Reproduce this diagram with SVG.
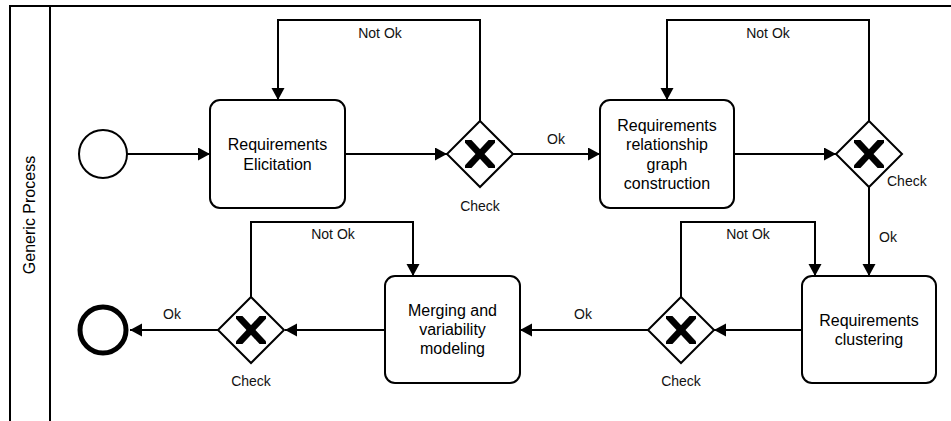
<svg xmlns="http://www.w3.org/2000/svg" width="951" height="421" viewBox="0 0 951 421">
  <style>
    .pool { fill: none; stroke: #000; stroke-width: 2; }
    .task { fill: #fff; stroke: #000; stroke-width: 2; }
    .gw { fill: #fff; stroke: #000; stroke-width: 2; }
    .xmark { stroke: #000; stroke-width: 6.5; stroke-linecap: butt; fill: none; }
    .flow { fill: none; stroke: #000; stroke-width: 2; marker-end: url(#arrow); }
    .tt { font-family: "Liberation Sans", Arial, sans-serif; font-size: 16px; fill: #000; text-anchor: middle; }
    .lbl { font-family: "Liberation Sans", Arial, sans-serif; font-size: 14px; fill: #111; text-anchor: middle; }
  </style>
  <defs>
    <marker id="arrow" markerUnits="userSpaceOnUse" markerWidth="14" markerHeight="14" refX="12" refY="6.5" orient="auto">
      <path d="M0,0 L12,6.5 L0,13 z" fill="#000"/>
    </marker>
    <clipPath id="xclip">
      <rect x="-15" y="-14" width="30" height="28"/>
    </clipPath>
    <!-- exclusive gateway: diamond with an X marker, centred on the origin -->
    <g id="xor">
      <polygon class="gw" points="0,-33 33,0 0,33 -33,0"/>
      <g clip-path="url(#xclip)">
        <line class="xmark" x1="-14.5" y1="-15.6" x2="14.5" y2="15.6"/>
        <line class="xmark" x1="14.5" y1="-15.6" x2="-14.5" y2="15.6"/>
      </g>
    </g>
  </defs>

  <rect width="951" height="421" fill="#fff"/>

  <!-- pool with its lane header -->
  <g id="pool">
    <path class="pool" d="M10,421 V6 H951"/>
    <line class="pool" x1="50" y1="6" x2="50" y2="421"/>
    <text class="tt" transform="translate(35,215) rotate(-90)" x="0" y="0">Generic Process</text>
  </g>

  <!-- sequence flows -->
  <g id="connectors">
    <path class="flow" d="M127,154 H210"/>
    <path class="flow" d="M345,154 H447"/>
    <path class="flow" d="M480,121 V20 H278 V100"/>
    <path class="flow" d="M513,154 H600"/>
    <path class="flow" d="M734,154 H836"/>
    <path class="flow" d="M869,121 V20 H667 V100"/>
    <path class="flow" d="M869,187 V276"/>
    <path class="flow" d="M802,330 H714"/>
    <path class="flow" d="M681,297 V222 H815 V276"/>
    <path class="flow" d="M648,330 H520"/>
    <path class="flow" d="M385,330 H285"/>
    <path class="flow" d="M251,297 V222 H413 V276"/>
    <path class="flow" d="M218,330 H130"/>

    <text class="lbl" x="380" y="38">Not Ok</text>
    <text class="lbl" x="556" y="144">Ok</text>
    <text class="lbl" x="768" y="38">Not Ok</text>
    <text class="lbl" x="888" y="242">Ok</text>
    <text class="lbl" x="748" y="239">Not Ok</text>
    <text class="lbl" x="583" y="319">Ok</text>
    <text class="lbl" x="333" y="239">Not Ok</text>
    <text class="lbl" x="172" y="319">Ok</text>
  </g>

  <g id="start">
    <circle cx="103" cy="154" r="24" fill="#fff" stroke="#000" stroke-width="2"/>
  </g>

  <g id="elicitation">
    <rect class="task" x="210" y="100" width="135" height="108" rx="10"/>
    <text class="tt" x="277.5" y="150">Requirements</text>
    <text class="tt" x="277.5" y="169.5">Elicitation</text>
  </g>

  <g id="check1">
    <use href="#xor" x="480" y="154"/>
    <text class="lbl" x="480" y="211">Check</text>
  </g>

  <g id="graph-construction">
    <rect class="task" x="600" y="100" width="134" height="108" rx="10"/>
    <text class="tt" x="667" y="131">Requirements</text>
    <text class="tt" x="667" y="150">relationship</text>
    <text class="tt" x="667" y="169.5">graph</text>
    <text class="tt" x="667" y="188.5">construction</text>
  </g>

  <g id="check2">
    <use href="#xor" x="869" y="154"/>
    <text class="lbl" x="887" y="186" style="text-anchor:start">Check</text>
  </g>

  <g id="clustering">
    <rect class="task" x="802" y="276" width="134" height="107" rx="10"/>
    <text class="tt" x="869" y="325.5">Requirements</text>
    <text class="tt" x="869" y="345">clustering</text>
  </g>

  <g id="check3">
    <use href="#xor" x="681" y="330"/>
    <text class="lbl" x="681" y="386">Check</text>
  </g>

  <g id="merging">
    <rect class="task" x="385" y="276" width="135" height="107" rx="10"/>
    <text class="tt" x="452.5" y="316">Merging and</text>
    <text class="tt" x="452.5" y="335">variability</text>
    <text class="tt" x="452.5" y="354">modeling</text>
  </g>

  <g id="check4">
    <use href="#xor" x="251" y="330"/>
    <text class="lbl" x="251" y="386">Check</text>
  </g>

  <g id="end">
    <circle cx="103" cy="330" r="23" fill="#fff" stroke="#000" stroke-width="5"/>
  </g>
</svg>
